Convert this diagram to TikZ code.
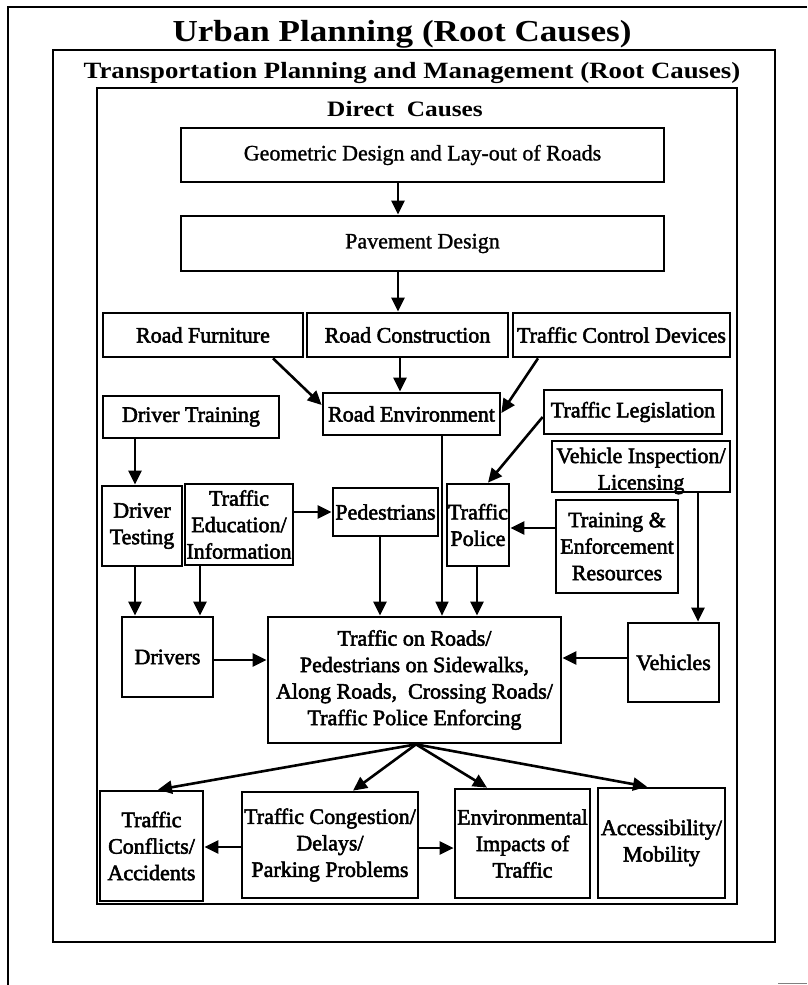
\documentclass[tikz,border=0pt]{standalone}
\usepackage{fontspec}
\setmainfont{Liberation Serif}
\newfontfamily\boxfont{Liberation Serif}[FakeBold=2.4]
\newfontfamily\lightboxfont{Liberation Serif}[FakeBold=1.2]
\newfontfamily\titlefont{Liberation Serif}[FakeStretch=1.15]
\usetikzlibrary{arrows.meta}

% box given by its corners (x1,y1) and (x2,y2)
\newcommand\cboxat[7][]{%
  \node[cbox,#1,minimum width={#4-#2},minimum height={#5-#3}]
    (#6) at ({(#2+#4)/2},{(#3+#5)/2}) {#7};}

\begin{document}
\begin{tikzpicture}[x=1pt,y=-1pt,
  cbox/.style={draw,line width=2.7pt,inner sep=0pt,align=center,
    font=\boxfont\fontsize{22}{26.5}\selectfont},
  plainbox/.style={font=\lightboxfont\fontsize{22}{26.5}\selectfont},
  arr/.style={line width=2.6pt,-{Triangle[length=14pt,width=13pt]}},
  thinarr/.style={arr,line width=1.6pt},
  frame/.style={line width=2.6pt},
  ttl/.style={inner sep=0pt,anchor=base}]

\useasboundingbox (0,0) rectangle (807,985);

% nested frames
\draw[frame] (807,7) -- (8,7) -- (8,985);
\draw[frame] (53,50) rectangle (775,942);
\draw[frame] (97,88) rectangle (737,904);
\draw[gray,line width=0.8pt] (778,983) -- (807,983);

% headings
\node[ttl,font=\titlefont\bfseries\fontsize{30.5}{34}\selectfont] (t1) at (402,41) {Urban Planning (Root Causes)};
\node[ttl,font=\titlefont\bfseries\fontsize{23.3}{28}\selectfont] (t2) at (412,78) {Transportation Planning and Management (Root Causes)};
\node[ttl,font=\titlefont\bfseries\fontsize{22}{26}\selectfont] (t3) at (405,116) {Direct\ \ Causes};

% boxes
\cboxat[plainbox]{181}{128}{664}{182}{geo}{Geometric Design and Lay-out of Roads}
\cboxat[plainbox]{181}{216}{664}{271}{pave}{Pavement Design}
\cboxat{103}{313}{303}{357}{furn}{Road Furniture}
\cboxat{307}{313}{508}{357}{rcon}{Road Construction}
\cboxat{513}{313}{730}{357}{tcd}{Traffic Control Devices}
\cboxat{323}{393}{500}{435}{renv}{Road Environment}
\cboxat{103}{396}{279}{438}{dtrain}{Driver Training}
\cboxat{544}{390}{722}{434}{tleg}{Traffic Legislation}
\cboxat{552}{441}{730}{492}{vinsp}{}
\node[cbox,draw=none] (vinsptxt) at (641,471) {Vehicle Inspection/\\Licensing};
\cboxat{102}{486}{182}{566}{dtest}{Driver\\Testing}
\cboxat{185}{484}{293}{565}{tedu}{Traffic\\Education/\\Information}
\cboxat{333}{488}{438}{536}{ped}{Pedestrians}
\cboxat{447}{484}{509}{566}{tpol}{Traffic\\Police}
\cboxat{556}{500}{678}{593}{tenf}{Training \&\\Enforcement\\Resources}
\cboxat{122}{617}{213}{697}{drivers}{Drivers}
\cboxat{268}{617}{561}{743}{traffic}{Traffic on Roads/\\Pedestrians on Sidewalks,\\Along Roads,\ \ Crossing Roads/\\Traffic Police Enforcing}
\cboxat{628}{623}{719}{702}{vehicles}{Vehicles}
\cboxat{100}{791}{203}{901}{tconf}{Traffic\\Conflicts/\\Accidents}
\cboxat{242}{792}{418}{898}{tcong}{Traffic Congestion/\\Delays/\\Parking Problems}
\cboxat{455}{789}{590}{898}{env}{Environmental\\Impacts of\\Traffic}
\cboxat{598}{788}{725}{898}{acc}{Accessibility/\\Mobility}

% connectors
\draw[arr] (geo.south -| 398,0) -- (pave.north -| 398,0);
\draw[arr] (pave.south -| 398,0) -- (rcon.north -| 398,0);
\draw[arr] (rcon.south -| 400,0) -- (renv.north -| 400,0);
\draw[arr] (furn.south -| 273,0) -- (renv.west |- 0,405);
\draw[arr] (tcd.south -| 538,0) -- (renv.east |- 0,413);
\draw[arr] (dtrain.south -| 135,0) -- (dtest.north -| 135,0);
\draw[arr] (tedu.east |- 0,512) -- (ped.west |- 0,512);
\draw[arr] (tleg.west |- 0,417) -- (tpol.north -| 488,0);
\draw[arr] (tenf.west |- 0,528) -- (tpol.east |- 0,528);
\draw[arr] (vinsp.south -| 698,0) -- (vehicles.north -| 698,0);
\draw[arr] (dtest.south -| 135,0) -- (drivers.north -| 135,0);
\draw[arr] (tedu.south -| 200,0) -- (drivers.north -| 200,0);
\draw[arr] (ped.south -| 380,0) -- (traffic.north -| 380,0);
\draw[thinarr] (renv.south -| 442,0) -- (traffic.north -| 442,0);
\draw[arr] (tpol.south -| 477,0) -- (traffic.north -| 477,0);
\draw[arr] (drivers.east |- 0,660) -- (traffic.west |- 0,660);
\draw[arr] (vehicles.west |- 0,658) -- (traffic.east |- 0,658);
\coordinate (fan) at (traffic.south -| 416,0);
\draw[arr] (fan) -- (tconf.north -| 158,0);
\draw[arr] (fan) -- (tcong.north -| 353,0);
\draw[arr] (fan) -- (env.north -| 487,0);
\draw[arr] (fan) -- (acc.north -| 647,0);
\draw[arr] (tcong.west |- 0,847) -- (tconf.east |- 0,847);
\draw[arr] (tcong.east |- 0,848) -- (env.west |- 0,848);
\end{tikzpicture}
\end{document}
